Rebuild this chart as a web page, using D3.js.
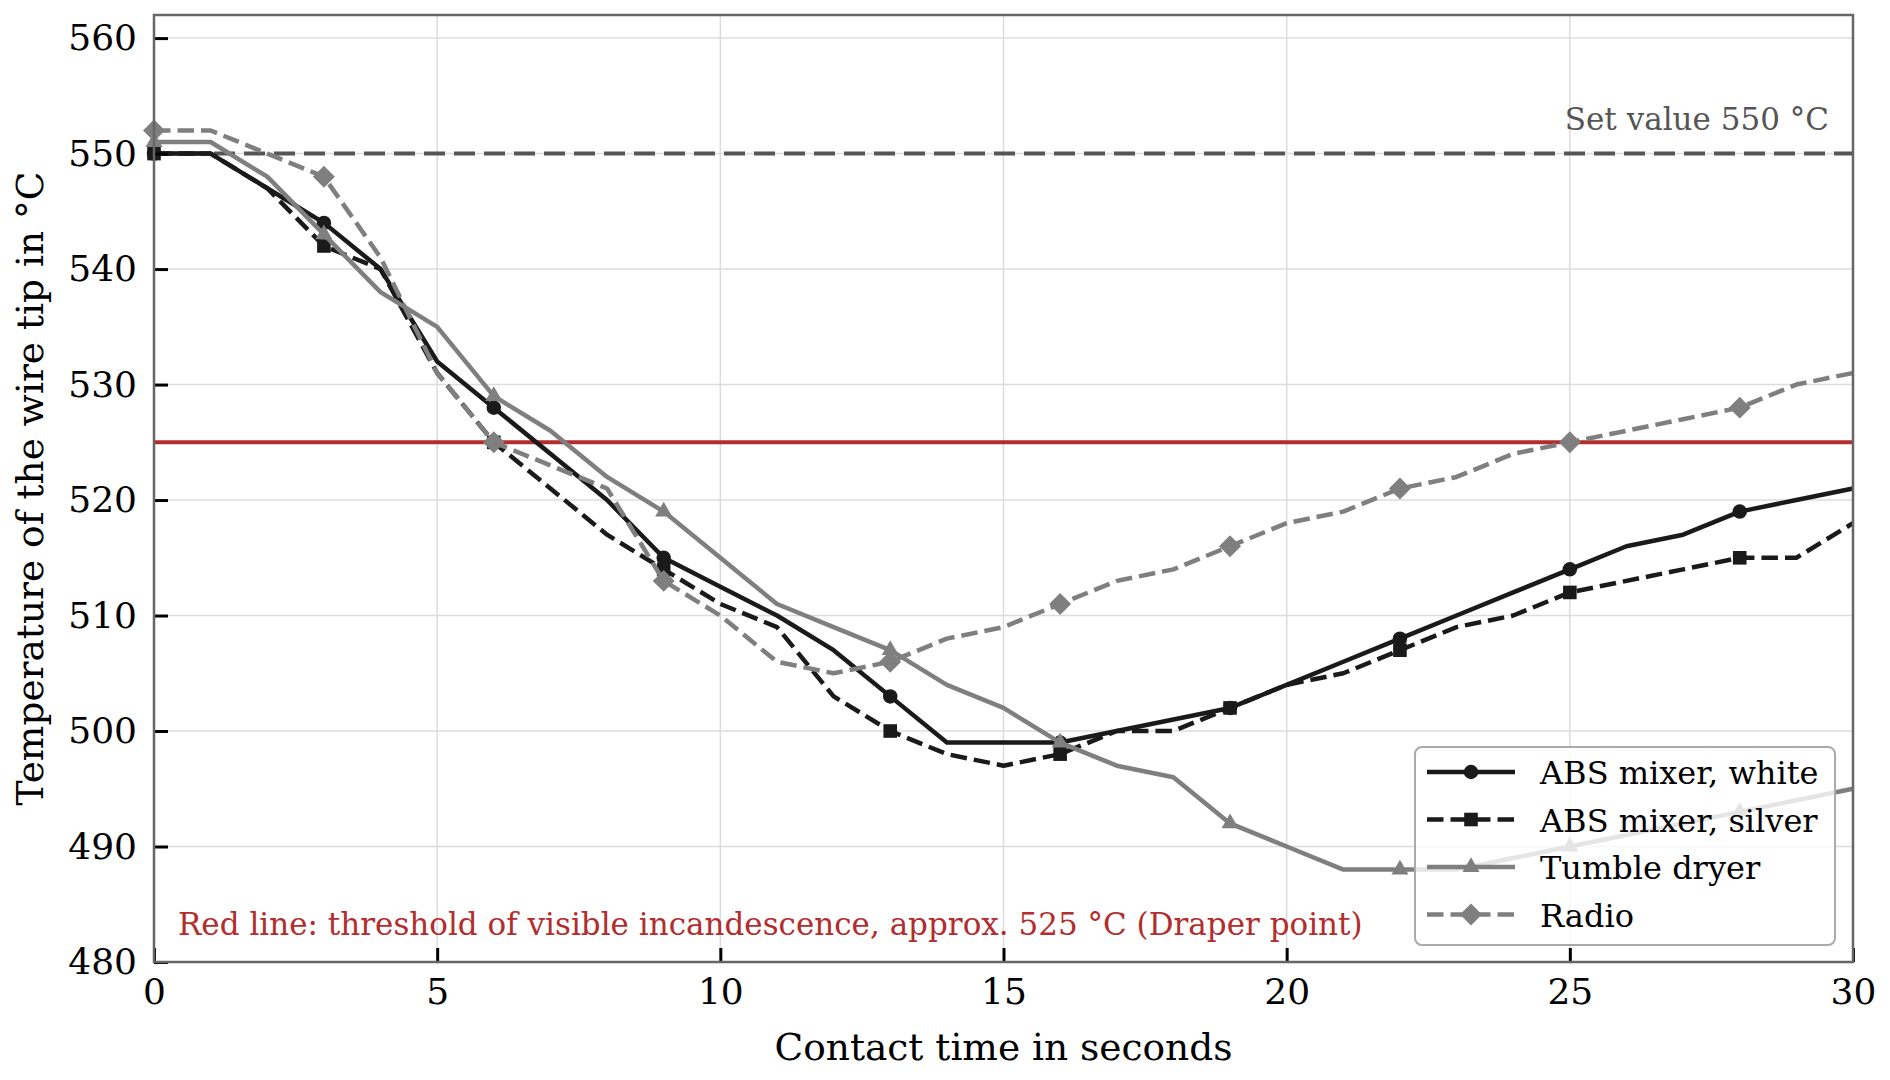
<!DOCTYPE html>
<html>
<head>
<meta charset="utf-8">
<script src="https://cdn.jsdelivr.net/npm/d3@7/dist/d3.min.js"></script>
<style>
    body { margin: 0; background: #fff; }
    svg text { font-family: "DejaVu Serif", serif; }
</style>
</head>
<body>
<script>
// contact time in seconds
var times = [0, 1, 2, 3, 4, 5, 6, 7, 8, 9, 10, 11, 12, 13, 14, 15, 16, 17, 18, 19, 20, 21, 22, 23, 24, 25, 26, 27, 28, 29, 30];

// wire tip temperature in degC
var absWhite = [550, 550, 547, 544, 540, 532, 528, 524, 520, 515, 512.5, 510, 507, 503, 499, 499, 499, 500, 501, 502, 504, 506, 508, 510, 512, 514, 516, 517, 519, 520, 521];
var absSilver = [550, 550, 547, 542, 540, 531, 525, 521, 517, 514, 511, 509, 503, 500, 498, 497, 498, 500, 500, 502, 504, 505, 507, 509, 510, 512, 513, 514, 515, 515, 518];
var tumbleDryer = [551, 551, 548, 543, 538, 535, 529, 526, 522, 519, 515, 511, 509, 507, 504, 502, 499, 497, 496, 492, 490, 488, 488, 488, 489, 490, 491, 492, 493, 494, 495];
var radio = [552, 552, 550, 548, 541, 531, 525, 523, 521, 513, 510, 506, 505, 506, 508, 509, 511, 513, 514, 516, 518, 519, 521, 522, 524, 525, 526, 527, 528, 530, 531];

// which points get a marker
var markerIdx = [0, 3, 6, 9, 13, 16, 19, 22, 25, 28];

var seriesNames = ["ABS mixer, white", "ABS mixer, silver", "Tumble dryer", "Radio"];

var xTicks = [0, 5, 10, 15, 20, 25, 30];
var yTicks = [480, 490, 500, 510, 520, 530, 540, 550, 560];

var setValue = 550;
var draperPoint = 525;
var setLabel = "Set value 550 °C";
var draperLabel = "Red line: threshold of visible incandescence, approx. 525 °C (Draper point)";
var xLabel = "Contact time in seconds";
var yLabel = "Temperature of the wire tip in °C";

function init() {
    var w = 1890;
    var h = 1080;
    var left = 154, right = 1853, top = 15, bottom = 962;

    var styles = [
        { color: "#1a1a1a", dash: null, symbol: d3.symbolCircle, size: 165, rot: 0 },
        { color: "#1a1a1a", dash: "16.5,7", symbol: d3.symbolSquare, size: 185, rot: 0 },
        { color: "#7f7f7f", dash: null, symbol: d3.symbolTriangle, size: 125, rot: 0 },
        { color: "#7f7f7f", dash: "16.5,7", symbol: d3.symbolSquare, size: 240, rot: 45 }
    ];

    var allSeries = [absWhite, absSilver, tumbleDryer, radio];
    var data = allSeries.map(function (vals, i) {
        return {
            name: seriesNames[i],
            style: styles[i],
            points: vals.map(function (v, j) { return { t: times[j], v: v }; })
        };
    });

    var xScale = d3.scaleLinear().domain([0, 30]).range([left, right]);
    var yScale = d3.scaleLinear().domain([480, 562]).range([bottom, top]);

    var svg = d3.select("body").append("svg").attr("width", w).attr("height", h);

    // grid
    svg.append("g").selectAll("line")
        .data(xTicks)
        .enter().append("line")
        .attr("x1", function (d) { return xScale(d); })
        .attr("x2", function (d) { return xScale(d); })
        .attr("y1", top).attr("y2", bottom)
        .attr("stroke", "#dcdcdc").attr("stroke-width", 1.5);
    svg.append("g").selectAll("line")
        .data(yTicks)
        .enter().append("line")
        .attr("y1", function (d) { return yScale(d); })
        .attr("y2", function (d) { return yScale(d); })
        .attr("x1", left).attr("x2", right)
        .attr("stroke", "#dcdcdc").attr("stroke-width", 1.5);

    // reference lines
    svg.append("line")
        .attr("x1", left).attr("x2", right)
        .attr("y1", yScale(setValue)).attr("y2", yScale(setValue))
        .attr("stroke", "#555").attr("stroke-width", 4)
        .attr("stroke-dasharray", "21,9");
    svg.append("line")
        .attr("x1", left).attr("x2", right)
        .attr("y1", yScale(draperPoint)).attr("y2", yScale(draperPoint))
        .attr("stroke", "#b22d2d").attr("stroke-width", 4);

    var line = d3.line()
        .x(function (d) { return xScale(d.t); })
        .y(function (d) { return yScale(d.v); });

    data.forEach(function (s) {
        var g = svg.append("g");
        g.append("path")
            .datum(s.points)
            .attr("d", line)
            .attr("fill", "none")
            .attr("stroke", s.style.color)
            .attr("stroke-width", 4.5)
            .attr("stroke-linejoin", "round")
            .attr("stroke-dasharray", s.style.dash);
        g.selectAll(".mk")
            .data(markerIdx.map(function (i) { return s.points[i]; }))
            .enter().append("path")
            .attr("class", "mk")
            .attr("d", d3.symbol().type(s.style.symbol).size(s.style.size))
            .attr("transform", function (d) {
                return "translate(" + xScale(d.t) + "," + yScale(d.v) + ") rotate(" + s.style.rot + ")";
            })
            .attr("fill", s.style.color);
    });

    // annotations
    svg.append("text")
        .attr("x", right - 24)
        .attr("y", yScale(setValue) - 24)
        .attr("text-anchor", "end")
        .attr("fill", "#555")
        .style("font-size", "31px")
        .text(setLabel);

    svg.append("text")
        .attr("x", left + 24)
        .attr("y", bottom - 27)
        .attr("fill", "#b22d2d")
        .style("font-size", "31px")
        .text(draperLabel);

    // axes
    var xAxis = d3.axisBottom(xScale).tickValues(xTicks).tickSizeInner(-14).tickSizeOuter(0).tickPadding(16);
    var yAxis = d3.axisLeft(yScale).tickValues(yTicks).tickSizeInner(-14).tickSizeOuter(0).tickPadding(17);

    var gx = svg.append("g")
        .attr("transform", "translate(0," + bottom + ")")
        .call(xAxis);
    var gy = svg.append("g")
        .attr("transform", "translate(" + left + ",0)")
        .call(yAxis);
    [gx, gy].forEach(function (g) {
        g.select(".domain").remove();
        g.selectAll(".tick line").attr("stroke", "#000").attr("stroke-width", 3);
        g.selectAll(".tick text").attr("fill", "#000").style("font-size", "36px")
            .style("font-family", "'DejaVu Serif', serif");
    });

    // spines
    svg.append("rect")
        .attr("x", left).attr("y", top)
        .attr("width", right - left).attr("height", bottom - top)
        .attr("fill", "none").attr("stroke", "#666").attr("stroke-width", 2.5);

    svg.append("text")
        .attr("x", (left + right) / 2)
        .attr("y", 1060)
        .attr("text-anchor", "middle")
        .attr("fill", "#000")
        .style("font-size", "37.5px")
        .text(xLabel);

    svg.append("text")
        .attr("transform", "rotate(-90)")
        .attr("x", -(top + bottom) / 2)
        .attr("y", 43)
        .attr("text-anchor", "middle")
        .attr("fill", "#000")
        .style("font-size", "37.5px")
        .text(yLabel);

    // legend
    var lg = svg.append("g");
    lg.append("rect")
        .attr("x", 1415).attr("y", 747)
        .attr("width", 420).attr("height", 198)
        .attr("rx", 7)
        .attr("fill", "#fff").attr("fill-opacity", 0.8)
        .attr("stroke", "#aaa").attr("stroke-width", 2);

    var rows = lg.selectAll(".row")
        .data(data)
        .enter().append("g")
        .attr("class", "row")
        .attr("transform", function (d, i) { return "translate(0," + (772 + i * 47.5) + ")"; });
    rows.append("line")
        .attr("x1", 1427).attr("x2", 1515)
        .attr("stroke", function (d) { return d.style.color; })
        .attr("stroke-width", 4.5)
        .attr("stroke-dasharray", function (d) { return d.style.dash; });
    rows.append("path")
        .attr("d", function (d) { return d3.symbol().type(d.style.symbol).size(d.style.size)(); })
        .attr("transform", function (d) { return "translate(1471,0) rotate(" + d.style.rot + ")"; })
        .attr("fill", function (d) { return d.style.color; });
    rows.append("text")
        .attr("x", 1540)
        .attr("y", 12)
        .attr("fill", "#000")
        .style("font-size", "32px")
        .text(function (d) { return d.name; });
}

window.onload = init;
</script>
</body>
</html>
